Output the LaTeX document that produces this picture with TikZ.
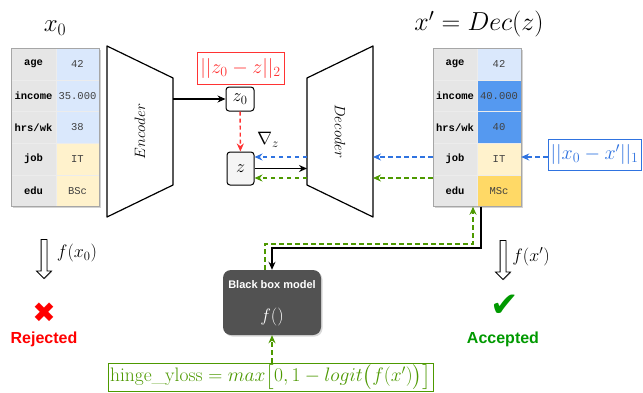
\RequirePackage{fix-cm}
\documentclass[tikz,border=0pt]{standalone}
\usepackage{amsmath}
\usepackage{fontspec}
\newfontfamily\tabfont{Liberation Mono}
\newfontfamily\helv{Liberation Sans}
\newfontfamily\markfont{DejaVu Sans}
\usepackage{tikz}
\usetikzlibrary{shapes.arrows,shadows,arrows.meta}

\definecolor{keygray}{HTML}{E6E6E6}
\definecolor{tabline}{HTML}{A6A6A6}
\definecolor{lightblue}{HTML}{DAE8FC}
\definecolor{darkblue}{HTML}{5599F0}
\definecolor{lightyellow}{HTML}{FFF2CC}
\definecolor{darkyellow}{HTML}{FFD966}
\definecolor{lossred}{HTML}{FF3333}
\definecolor{lossblue}{HTML}{2F73E0}
\definecolor{lossgreen}{HTML}{4D9900}
\definecolor{okgreen}{HTML}{009900}
\definecolor{boxgray}{HTML}{525252}

\tikzset{
  key/.style={draw=white!85!gray, fill=keygray, minimum width=45pt, minimum height=31.7pt, inner sep=0pt, font=\tabfont\bfseries\fontsize{10.5}{12}\selectfont},
  val/.style={draw=white!85!gray, minimum width=43pt, minimum height=31.7pt, inner sep=0pt, text=black!75, font=\tabfont\fontsize{10.5}{12}\selectfont},
  tabframe/.style={draw=tabline, line width=0.8pt, fill=white, drop shadow={shadow xshift=1.5pt, shadow yshift=-1.5pt, opacity=0.35}},
  coder/.style={draw, line width=1.2pt, fill=white, line join=round},
  latent/.style={draw, rounded corners=3pt, line width=1pt, inner sep=0pt, font=\fontsize{18}{20}\selectfont},
  lossbox/.style={draw, line width=0.9pt, fill=white, inner sep=2pt, font=\fontsize{20}{22}\selectfont},
  arr/.style={-{Stealth[length=8pt,width=7pt]}, line width=1.6pt},
  redarr/.style={arr, lossred, dash pattern=on 4pt off 3pt, line width=1.4pt},
  bluearr/.style={arr, lossblue, dash pattern=on 4.5pt off 3.5pt, line width=1.4pt},
  greenarr/.style={arr, lossgreen, dash pattern=on 4.5pt off 3.5pt, line width=1.4pt},
  hollow/.style={single arrow, draw, line width=0.8pt, fill=white, rotate=-90, inner sep=2.5pt, minimum height=39pt, single arrow head extend=4.5pt, drop shadow={shadow xshift=1pt, shadow yshift=-1pt, opacity=0.3}},
  verdict/.style={font=\helv\bfseries\fontsize{16}{18}\selectfont}
}

\begin{document}
\begin{tikzpicture}[x=1pt,y=-1pt]
\useasboundingbox (0,0) rectangle (643,392);

% titles
\node (tx0) at (55,28) {\fontsize{25}{28}\selectfont $x_0$};
\node (txc) at (479,24) {\fontsize{26}{29}\selectfont $x' = Dec(z)$};

% original input x_0
\draw[tabframe] (11,48.3) rectangle (99,206.7);
\node[key] (xAge) at (33.5,64.2) {age};
\node[key] (xInc) at (33.5,95.8) {income};
\node[key] (xHrs) at (33.5,127.5) {hrs/wk};
\node[key] (xJob) at (33.5,159.2) {job};
\node[key] (xEdu) at (33.5,190.8) {edu};
\node[val, fill=lightblue] (xAgeV) at (77.5,64.2) {42};
\node[val, fill=lightblue] (xIncV) at (77.5,95.8) {35.000};
\node[val, fill=lightblue] (xHrsV) at (77.5,127.5) {38};
\node[val, fill=lightyellow] (xJobV) at (77.5,159.2) {IT};
\node[val, fill=lightyellow] (xEduV) at (77.5,190.8) {BSc};
\draw[tabline, line width=0.8pt] (11,48.3) rectangle (99,206.7);

% counterfactual x'
\draw[tabframe] (433,48.3) rectangle (521,206.7);
\node[key, minimum width=44pt] (cAge) at (455,64.2) {age};
\node[key, minimum width=44pt] (cInc) at (455,95.8) {income};
\node[key, minimum width=44pt] (cHrs) at (455,127.5) {hrs/wk};
\node[key, minimum width=44pt] (cJob) at (455,159.2) {job};
\node[key, minimum width=44pt] (cEdu) at (455,190.8) {edu};
\node[val, minimum width=44pt, fill=lightblue] (cAgeV) at (499,64.2) {42};
\node[val, minimum width=44pt, fill=darkblue] (cIncV) at (499,95.8) {40.000};
\node[val, minimum width=44pt, fill=darkblue] (cHrsV) at (499,127.5) {40};
\node[val, minimum width=44pt, fill=lightyellow] (cJobV) at (499,159.2) {IT};
\node[val, minimum width=44pt, fill=darkyellow] (cEduV) at (499,190.8) {MSc};
\draw[tabline, line width=0.8pt] (433,48.3) rectangle (521,206.7);
\coordinate (cBot) at (477,206.7);

% encoder and decoder
\draw[coder] (107,46) -- (173,78) -- (173,185) -- (107,217) -- cycle;
\node[rotate=90, font=\fontsize{15}{17}\selectfont] (enc) at (140,131.5) {$Encoder$};
\draw[coder] (307,78) -- (373,46) -- (373,217) -- (307,185) -- cycle;
\node[rotate=-90, font=\fontsize{15}{17}\selectfont] (dec) at (340,131.5) {$Decoder$};
\coordinate (encOut) at (173,99);
\coordinate (decOutB) at (307,157);
\coordinate (decIn) at (307,168.5);
\coordinate (decOutG) at (307,178);
\coordinate (decInB) at (373,157);
\coordinate (decInG) at (373,178);

% latent codes
\node[latent, fill=white, minimum width=28pt, minimum height=24pt] (z0) at (240,99) {$z_0$};
\node[latent, fill=black!4, minimum width=27pt, minimum height=33pt] (z) at (240.5,168.5) {$z$};
\node[lossbox, draw=lossred, text=lossred, minimum width=87pt, minimum height=32pt] (l2) at (240.5,68) {$||z_0 - z||_2$};
\node[font=\fontsize{18}{20}\selectfont] (grad) at (268,140) {$\nabla_z$};
\node[lossbox, draw=lossblue, text=lossblue, minimum width=93pt, minimum height=31pt, drop shadow={shadow xshift=1pt, shadow yshift=-1pt, opacity=0.3}] (l1) at (594.5,154.5) {$||x_0 - x'||_1$};

% black box
\node[fill=boxgray, rounded corners=8pt, minimum width=98pt, minimum height=65pt, drop shadow={shadow xshift=1.5pt, shadow yshift=-1.5pt, opacity=0.3}] (bb) at (272,302.5) {};
\node[text=white, font=\helv\bfseries\fontsize{11}{13}\selectfont] (bbname) at (272,285) {Black box model};
\node[text=white, font=\fontsize{18}{20}\selectfont] (bbf) at (272,317) {$f()$};
\node[lossbox, draw=lossgreen, text=lossgreen, inner sep=1pt, minimum width=325pt, minimum height=28pt, font=\fontsize{19.5}{21}\selectfont] (hinge) at (270.5,377) {hinge\_yloss $= max\big[0, 1 - logit\big(f(x')\big)\big]$};

% predictions
\node[hollow] (px0) at (44,257.5) {};
\node[font=\fontsize{18}{20}\selectfont] (fx0) at (77,253) {$f(x_0)$};
\node[text=red, font=\markfont\fontsize{28}{30}\selectfont] (no) at (44,313) {✖};
\node[verdict, text=red] (rej) at (44,339) {Rejected};
\node[hollow] (pxc) at (503,258.5) {};
\node[font=\fontsize{18}{20}\selectfont] (fxc) at (531,257) {$f(x')$};
\node[text=okgreen, font=\markfont\fontsize{34}{36}\selectfont] (yes) at (505,306) {✔};
\node[verdict, text=okgreen] (acc) at (503,339) {Accepted};

% connectors
\draw[arr] (encOut) -- (z0);
\draw[redarr] (z0) -- (z);
\draw[arr] (z.east |- decIn) -- (decIn);
\draw[bluearr] (decOutB) -- (z.east |- decOutB);
\draw[greenarr] (decOutG) -- (z.east |- decOutG);
\draw[bluearr] (cJob.west |- decInB) -- (decInB);
\draw[greenarr] (cJob.west |- decInG) -- (decInG);
\draw[bluearr] (l1.west |- decInB) -- (cJobV.east |- decInB);
\draw[arr] ([xshift=4pt]cBot) -- ++(0,41.5) -| (bb.north);
\draw[greenarr] ([xshift=-7pt]bb.north) -- ++(0,-26) -| ([xshift=-4pt]cBot);
\draw[greenarr] (hinge.north -| bb.south) -- (bb.south);
\end{tikzpicture}
\end{document}
